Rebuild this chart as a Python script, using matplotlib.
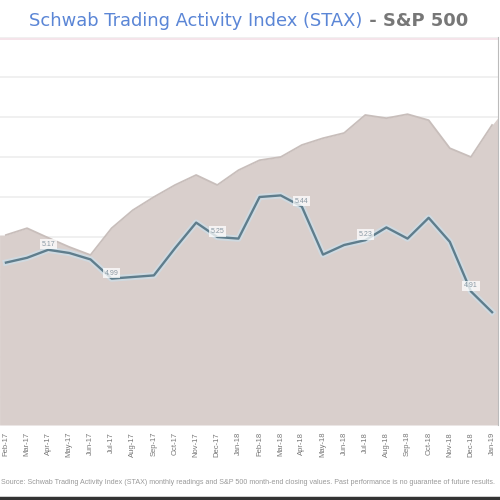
import matplotlib
matplotlib.use("Agg")
import matplotlib.pyplot as plt
import matplotlib.patheffects as pe

# =========================================================
# DATA
# =========================================================
months = ["Feb-17", "Mar-17", "Apr-17", "May-17", "Jun-17", "Jul-17",
          "Aug-17", "Sep-17", "Oct-17", "Nov-17", "Dec-17", "Jan-18",
          "Feb-18", "Mar-18", "Apr-18", "May-18", "Jun-18", "Jul-18",
          "Aug-18", "Sep-18", "Oct-18", "Nov-18", "Dec-18", "Jan-19"]

stax = [5.09, 5.12, 5.17, 5.15, 5.11, 4.99, 5.00, 5.01, 5.18, 5.34, 5.25, 5.24,
        5.50, 5.51, 5.44, 5.14, 5.20, 5.23, 5.31, 5.24, 5.37, 5.22, 4.91, 4.78]

sp500 = [2475, 2492, 2468, 2445, 2425, 2492, 2537, 2570, 2600, 2625, 2600, 2637,
         2662, 2670, 2700, 2717, 2730, 2775, 2767, 2777, 2762, 2692, 2670, 2750]

# points that carry a value label
labelled = [2, 5, 10, 14, 17, 22]

# =========================================================
# FIGURE
# =========================================================
plt.rcParams["font.family"] = ["Liberation Sans", "DejaVu Sans"]
fig = plt.figure(figsize=(5, 5), dpi=100)
ax = fig.add_axes([0.0, 0.15, 0.996, 0.776])
x = list(range(len(months)))
gridvals = [4.25 + 0.25 * i for i in range(10)]

# grid axis sits behind everything so the area hides it
ax3 = ax.twinx()
ax3.set_ylim(4.075, 6.5)
for v in gridvals:
    ax3.axhline(v, color="#eeeeee", linewidth=1.2)
ax3.axhline(6.49, color="#f3dfe6", linewidth=1.2)
ax3.set_yticks([])

# S&P 500 area
ax.fill_between([-0.3] + x + [23.3], 2000, [sp500[0]] + sp500 + [sp500[-1] + 20],
                color="#d9cfcc", linewidth=0, zorder=2)
ax.plot(x, sp500, color="#c8bebb", linewidth=1.3, zorder=2)
ax.set_ylim(2000, 2970)
ax.set_xlim(-0.28, len(months) - 1 + 0.28)
ax.set_yticks([])

# STAX line on a second axis
ax2 = ax.twinx()
ax2.plot(x, stax, color="#5f7d8c", linewidth=1.7, zorder=3,
         path_effects=[pe.Stroke(linewidth=4.5, foreground="#cddde7", alpha=0.8),
                       pe.Normal()])
ax2.set_ylim(4.075, 6.5)
ax2.set_yticks([])

ax3.set_zorder(0)
ax.set_zorder(1)
ax2.set_zorder(2)
ax.patch.set_visible(False)
ax2.patch.set_visible(False)

for i in labelled:
    ax2.annotate(f"{stax[i]:.2f}", (i, stax[i]), xytext=(0, 4),
                 textcoords="offset points", ha="center", va="center",
                 fontsize=5, color="#8a9aa5",
                 bbox=dict(boxstyle="square,pad=0.25", fc="white", ec="none", alpha=0.75),
                 zorder=4)

ax.set_xticks(x)
ax.set_xticklabels(months, rotation=90, fontsize=5.5, color="#777777")
ax.tick_params(axis="x", length=0, pad=5)

for a in (ax, ax2, ax3):
    for s in ["top", "left", "bottom", "right"]:
        a.spines[s].set_visible(False)
ax2.spines["right"].set_visible(True)
ax2.spines["right"].set_color("#bbbbbb")

# title in two colours, centred as a whole
t1 = fig.text(0.0, 0.958, "Schwab Trading Activity Index (STAX)", ha="left", va="center",
              fontsize=12.9, color="#5b86d6", family="DejaVu Sans")
t2 = fig.text(0.0, 0.958, " - S&P 500", ha="left", va="center",
              fontsize=12.9, color="#777777", fontweight="bold", family="DejaVu Sans")
fig.canvas.draw()
inv = fig.transFigure.inverted()
w1 = t1.get_window_extent().transformed(inv).width
w2 = t2.get_window_extent().transformed(inv).width
start = 0.497 - (w1 + w2) / 2
t1.set_x(start)
t2.set_x(start + w1)

# footer note
fig.text(0.002, 0.034, "Source: Schwab Trading Activity Index (STAX) monthly readings and "
         "S&P 500 month-end closing values. Past performance is no guarantee of future results.",
         ha="left", va="center", fontsize=5.1, color="#999999")
fig.add_artist(plt.Line2D([0, 1], [0.004, 0.004], color="#333333", linewidth=2.5))

fig.savefig("out.png", dpi=100)
